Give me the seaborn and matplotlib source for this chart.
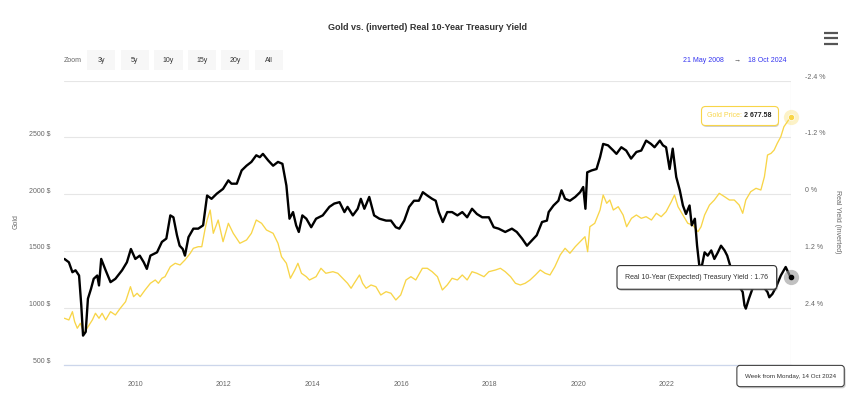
import pandas as pd
import seaborn as sns
import matplotlib.pyplot as plt
import matplotlib.patheffects as pe
from matplotlib.lines import Line2D
from matplotlib.patches import Rectangle
from matplotlib.offsetbox import AnnotationBbox, HPacker, TextArea

# Gold price ($/oz)
gold_years = [2008.40, 2008.50, 2008.58, 2008.63, 2008.69, 2008.76, 2008.84, 2008.91, 2009.03, 2009.10,
              2009.18, 2009.25, 2009.33, 2009.44, 2009.55, 2009.66, 2009.78, 2009.89, 2009.96, 2010.04,
              2010.11, 2010.22, 2010.34, 2010.45, 2010.52, 2010.60, 2010.67, 2010.79, 2010.90, 2011.01,
              2011.12, 2011.24, 2011.31, 2011.42, 2011.50, 2011.57, 2011.62, 2011.69, 2011.76, 2011.87,
              2011.98, 2012.10, 2012.21, 2012.36, 2012.51, 2012.62, 2012.73, 2012.85, 2012.96, 2013.11,
              2013.22, 2013.30, 2013.41, 2013.50, 2013.60, 2013.67, 2013.75, 2013.86, 2013.93, 2014.08,
              2014.19, 2014.30, 2014.46, 2014.57, 2014.68, 2014.79, 2014.87, 2014.94, 2015.06, 2015.13,
              2015.21, 2015.32, 2015.43, 2015.54, 2015.66, 2015.77, 2015.88, 2015.99, 2016.11, 2016.22,
              2016.33, 2016.48, 2016.59, 2016.70, 2016.82, 2016.93, 2017.04, 2017.15, 2017.27, 2017.38,
              2017.49, 2017.60, 2017.71, 2017.87, 2017.98, 2018.13, 2018.24, 2018.35, 2018.47, 2018.58,
              2018.69, 2018.80, 2018.91, 2019.03, 2019.14, 2019.25, 2019.36, 2019.47, 2019.59, 2019.70,
              2019.81, 2019.93, 2020.04, 2020.15, 2020.21, 2020.26, 2020.37, 2020.49, 2020.56, 2020.64,
              2020.71, 2020.79, 2020.90, 2021.01, 2021.09, 2021.20, 2021.31, 2021.42, 2021.53, 2021.65,
              2021.76, 2021.87, 2021.98, 2022.10, 2022.17, 2022.25, 2022.36, 2022.47, 2022.58, 2022.70,
              2022.77, 2022.85, 2022.96, 2023.07, 2023.18, 2023.30, 2023.41, 2023.52, 2023.63, 2023.71,
              2023.78, 2023.89, 2024.01, 2024.12, 2024.20, 2024.27, 2024.35, 2024.42, 2024.49, 2024.57,
              2024.64, 2024.79]
gold_prices = [907, 892, 965, 877, 819, 863, 775, 819, 892, 951,
               907, 951, 892, 965, 936, 995, 1053, 1185, 1097, 1127,
               1097, 1156, 1215, 1244, 1215, 1259, 1273, 1361, 1391, 1376,
               1420, 1479, 1523, 1537, 1537, 1684, 1772, 1860, 1655, 1772,
               1581, 1743, 1655, 1567, 1596, 1655, 1772, 1743, 1684, 1655,
               1567, 1449, 1391, 1259, 1332, 1391, 1303, 1273, 1244, 1273,
               1347, 1303, 1317, 1303, 1259, 1215, 1171, 1215, 1288, 1215,
               1171, 1200, 1185, 1112, 1141, 1127, 1068, 1112, 1244, 1273,
               1244, 1347, 1347, 1317, 1273, 1156, 1200, 1259, 1244, 1288,
               1244, 1317, 1303, 1273, 1317, 1332, 1347, 1317, 1273, 1215,
               1200, 1215, 1244, 1288, 1332, 1303, 1288, 1361, 1464, 1523,
               1479, 1537, 1581, 1625, 1493, 1713, 1743, 1860, 1992, 1919,
               1948, 1860, 1889, 1816, 1713, 1787, 1816, 1787, 1801, 1772,
               1831, 1801, 1845, 1933, 1992, 1889, 1816, 1743, 1728, 1669,
               1713, 1816, 1904, 1948, 2007, 1977, 1948, 1948, 1904, 1831,
               1948, 2021, 2051, 2036, 2153, 2344, 2359, 2388, 2447, 2505,
               2593, 2677.58]

# Real 10-year (expected) treasury yield (%), plotted inverted
yield_years = [2008.40, 2008.50, 2008.58, 2008.65, 2008.73, 2008.78, 2008.82, 2008.88, 2008.93, 2009.00,
               2009.06, 2009.14, 2009.18, 2009.23, 2009.33, 2009.44, 2009.55, 2009.70, 2009.81, 2009.90,
               2010.00, 2010.10, 2010.19, 2010.26, 2010.34, 2010.49, 2010.60, 2010.70, 2010.79, 2010.86,
               2010.94, 2011.00, 2011.07, 2011.12, 2011.20, 2011.31, 2011.42, 2011.53, 2011.62, 2011.72,
               2011.84, 2011.98, 2012.10, 2012.17, 2012.29, 2012.40, 2012.51, 2012.62, 2012.73, 2012.81,
               2012.88, 2013.00, 2013.11, 2013.22, 2013.32, 2013.41, 2013.48, 2013.56, 2013.63, 2013.69,
               2013.77, 2013.86, 2013.97, 2014.08, 2014.23, 2014.38, 2014.49, 2014.61, 2014.72, 2014.79,
               2014.91, 2015.02, 2015.09, 2015.17, 2015.28, 2015.39, 2015.51, 2015.66, 2015.77, 2015.88,
               2015.96, 2016.07, 2016.18, 2016.29, 2016.40, 2016.49, 2016.59, 2016.70, 2016.78, 2016.85,
               2016.94, 2017.04, 2017.15, 2017.27, 2017.38, 2017.49, 2017.60, 2017.71, 2017.83, 2017.98,
               2018.09, 2018.20, 2018.35, 2018.50, 2018.61, 2018.73, 2018.84, 2018.95, 2019.06, 2019.18,
               2019.29, 2019.33, 2019.44, 2019.55, 2019.62, 2019.70, 2019.81, 2019.93, 2020.04, 2020.11,
               2020.16, 2020.20, 2020.30, 2020.41, 2020.49, 2020.56, 2020.67, 2020.79, 2020.86, 2020.97,
               2021.08, 2021.19, 2021.31, 2021.42, 2021.53, 2021.64, 2021.72, 2021.84, 2021.91, 2021.98,
               2022.06, 2022.13, 2022.21, 2022.29, 2022.36, 2022.43, 2022.51, 2022.56, 2022.63, 2022.68,
               2022.73, 2022.79, 2022.85, 2022.92, 2023.00, 2023.07, 2023.15, 2023.22, 2023.30, 2023.36,
               2023.48, 2023.60, 2023.71, 2023.75, 2023.78, 2023.85, 2023.93, 2024.04, 2024.16, 2024.27,
               2024.31, 2024.38, 2024.46, 2024.57, 2024.68, 2024.79]
yield_vals = [1.37, 1.44, 1.65, 1.61, 1.72, 2.35, 2.99, 2.91, 2.21, 2.00,
              1.79, 1.72, 1.93, 1.37, 1.61, 1.86, 1.79, 1.61, 1.44, 1.16,
              1.37, 1.30, 1.44, 1.58, 1.30, 1.23, 1.01, 0.94, 0.45, 0.49,
              0.87, 1.09, 1.16, 1.30, 0.91, 0.73, 0.73, 0.66, 0.03, 0.10,
              -0.01, -0.11, -0.29, -0.22, -0.22, -0.50, -0.60, -0.68, -0.82, -0.78,
              -0.85, -0.71, -0.60, -0.68, -0.64, -0.18, 0.52, 0.38, 0.66, 0.80,
              0.45, 0.52, 0.70, 0.52, 0.45, 0.27, 0.20, 0.17, 0.38, 0.27,
              0.45, 0.31, 0.10, 0.31, 0.06, 0.45, 0.52, 0.56, 0.56, 0.70,
              0.73, 0.56, 0.27, 0.14, 0.14, -0.04, 0.03, 0.10, 0.14, 0.38,
              0.59, 0.38, 0.38, 0.45, 0.38, 0.49, 0.31, 0.42, 0.49, 0.49,
              0.70, 0.73, 0.80, 0.73, 0.80, 0.94, 1.09, 0.98, 0.87, 0.59,
              0.56, 0.38, 0.24, 0.14, -0.08, 0.10, 0.14, 0.06, -0.04, -0.15,
              0.31, -0.46, -0.50, -0.53, -0.78, -1.06, -1.03, -0.92, -0.85, -0.99,
              -0.92, -0.75, -0.89, -0.92, -1.13, -1.06, -0.99, -1.13, -1.03, -0.99,
              -0.53, -0.96, -0.36, -0.08, 0.24, 0.42, 0.24, 0.66, 0.52, 1.09,
              1.51, 1.51, 1.23, 1.30, 1.19, 1.37, 1.23, 1.09, 1.19, 1.30,
              1.68, 1.90, 2.07, 2.35, 2.42, 2.21, 2.00, 1.83, 1.94, 2.07,
              2.18, 2.11, 1.97, 1.72, 1.54, 1.76]

left_ticks = [500, 1000, 1500, 2000, 2500, 3000]
left_labels = ['500 $', '1000 $', '1500 $', '2000 $', '2500 $', '']
right_ticks = [-2.4, -1.2, 0, 1.2, 2.4]
right_labels = ['-2.4 %', '-1.2 %', '0 %', '1.2 %', '2.4 %']
year_ticks = list(range(2010, 2025, 2))
zoom_buttons = ['3y', '5y', '10y', '15y', '20y', 'All']

sns.set_style('white')
plt.rcParams['font.family'] = ['Liberation Sans', 'DejaVu Sans']

GOLD = '#f8d548'
GRID = '#e6e6e6'
AXIS = '#ccd6eb'
LABEL = '#666666'

W, H = 848, 398
fig = plt.figure(figsize=(W / 100, H / 100), dpi=100)


def fx(px):
    return px / W


def fy(py):
    return 1 - py / H


ax = fig.add_axes([fx(64), fy(364.5), (791 - 64) / W, (364.5 - 80.5) / H])
ax2 = ax.twinx()

df_gold = pd.DataFrame({'year': gold_years, 'price': gold_prices})
df_yield = pd.DataFrame({'year': yield_years, 'real_yield': yield_vals})

# crosshair at hovered week
ax.axvline(yield_years[-1], color='#cccccc', lw=0.8, zorder=0)

sns.lineplot(data=df_gold, x='year', y='price', ax=ax, color=GOLD, linewidth=0.95)
sns.lineplot(data=df_yield, x='year', y='real_yield', ax=ax2, color='black', linewidth=1.7)

ax.set_xlim(2008.39, 2024.80)
ax.set_ylim(500, 3000)
ax2.set_ylim(3.6, -2.4)

ax.set_yticks(left_ticks, left_labels)
ax2.set_yticks(right_ticks, right_labels)
ax.set_xticks(year_ticks, [str(y) for y in year_ticks])
ax.tick_params(axis='y', length=0, pad=9.5, labelsize=5, labelcolor=LABEL)
ax2.tick_params(axis='y', length=0, pad=10, labelsize=5, labelcolor=LABEL)
ax.tick_params(axis='x', length=3.6, width=0.8, color=AXIS, pad=8, labelsize=5, labelcolor=LABEL)
for lab in ax.get_yticklabels() + ax2.get_yticklabels():
    lab.set_va('bottom')
ax.grid(axis='y', color=GRID, lw=0.8)
ax.set_axisbelow(True)
ax.set_xlabel('')
ax.set_ylabel('')
ax2.set_ylabel('')
for s in ['top', 'left', 'right']:
    ax.spines[s].set_visible(False)
ax.spines['bottom'].set_color(AXIS)
ax.spines['bottom'].set_linewidth(0.9)
for s in ax2.spines.values():
    s.set_visible(False)

# hovered points
x_end = yield_years[-1]
gold_end_on_ax2 = (2000 - gold_prices[-1]) / 500 * 1.2
ax2.plot(gold_years[-1], gold_end_on_ax2, 'o', ms=11, color=GOLD, alpha=0.3, mec='none', zorder=5, clip_on=False)
ax2.plot(gold_years[-1], gold_end_on_ax2, 'o', ms=4.5, color=GOLD, mec='white', mew=0.5, zorder=6, clip_on=False)
ax2.plot(x_end, yield_vals[-1], 'o', ms=11, color='#999999', alpha=0.6, mec='none', zorder=5, clip_on=False)
ax2.plot(x_end, yield_vals[-1], 'o', ms=3, color='black', zorder=6, clip_on=False)

shadow = [pe.SimplePatchShadow(offset=(1, -1.2), shadow_rgbFace='#777777', alpha=0.35), pe.Normal()]

t1 = ax2.annotate(f'Real 10-Year (Expected) Treasury Yield : {yield_vals[-1]:.2f}',
                  xy=(x_end, yield_vals[-1]), xytext=(-16, 0), textcoords='offset points',
                  ha='right', va='center', fontsize=5, color='#333333', zorder=10,
                  bbox=dict(boxstyle='round,pad=1.2,rounding_size=0.5', fc='white', ec='#333333', lw=0.8))
t1.get_bbox_patch().set_path_effects(shadow)

price_txt = f'{gold_prices[-1]:,.2f}'.replace(',', ' ')
box = HPacker(children=[TextArea('Gold Price: ', textprops=dict(color=GOLD, fontsize=5)),
                        TextArea(price_txt, textprops=dict(color='#222222', fontsize=5, fontweight='bold'))],
              align='baseline', pad=0, sep=0)
ab = AnnotationBbox(box, (gold_years[-1], gold_prices[-1]), xycoords=ax.transData,
                    xybox=(-13.5, 1), boxcoords='offset points', box_alignment=(1, 0.5),
                    frameon=True, pad=0.8, fontsize=5, zorder=10,
                    bboxprops=dict(boxstyle='round,pad=0.9,rounding_size=0.6', fc='white', ec=GOLD, lw=0.8))
ax2.add_artist(ab)
ab.patch.set_path_effects(shadow)

t3 = ax2.annotate('Week from Monday, 14 Oct 2024', xy=(x_end, 0), xycoords=('data', 'axes fraction'),
                  xytext=(0, -8.3), textcoords='offset points', ha='center', va='center',
                  fontsize=4.5, color='#333333', zorder=10, annotation_clip=False,
                  bbox=dict(boxstyle='round,pad=1.3,rounding_size=0.5', fc='white', ec='#444444', lw=0.8))
t3.get_bbox_patch().set_path_effects(shadow)

# header: title, range selector, date range, menu
fig.text(fx(427), fy(28), 'Gold vs. (inverted) Real 10-Year Treasury Yield', ha='center', va='center',
         fontsize=6.5, fontweight='bold', color='#333333')
fig.text(fx(73), fy(60), 'Zoom', ha='center', va='center', fontsize=5, color=LABEL)
for i, name in enumerate(zoom_buttons):
    left = 87 + i * 33.5
    fig.add_artist(Rectangle((fx(left), fy(70)), 28.5 / W, 20 / H, transform=fig.transFigure,
                             fc='#f7f7f7', ec='none'))
    fig.text(fx(left + 14.25), fy(60), name, ha='center', va='center', fontsize=5, color='#333333')

fig.text(fx(703.5), fy(60), '21 May 2008', ha='center', va='center', fontsize=5, color='#3535f0')
fig.text(fx(737), fy(60), '\u2192', ha='center', va='center', fontsize=5, color='#444444')
fig.text(fx(767), fy(60), '18 Oct 2024', ha='center', va='center', fontsize=5, color='#3535f0')
for yy in (32.5, 38, 43.5):
    fig.add_artist(Line2D([fx(824), fx(838)], [fy(yy), fy(yy)], color='#555555', lw=1.6,
                          solid_capstyle='butt'))

fig.text(fx(16), fy(222), 'Gold', rotation=90, ha='center', va='center', fontsize=5, color=LABEL)
fig.text(fx(838), fy(222), 'Real Yield (inverted)', rotation=270, ha='center', va='center',
         fontsize=5, color=LABEL)

fig.savefig('out.png', dpi=100)
